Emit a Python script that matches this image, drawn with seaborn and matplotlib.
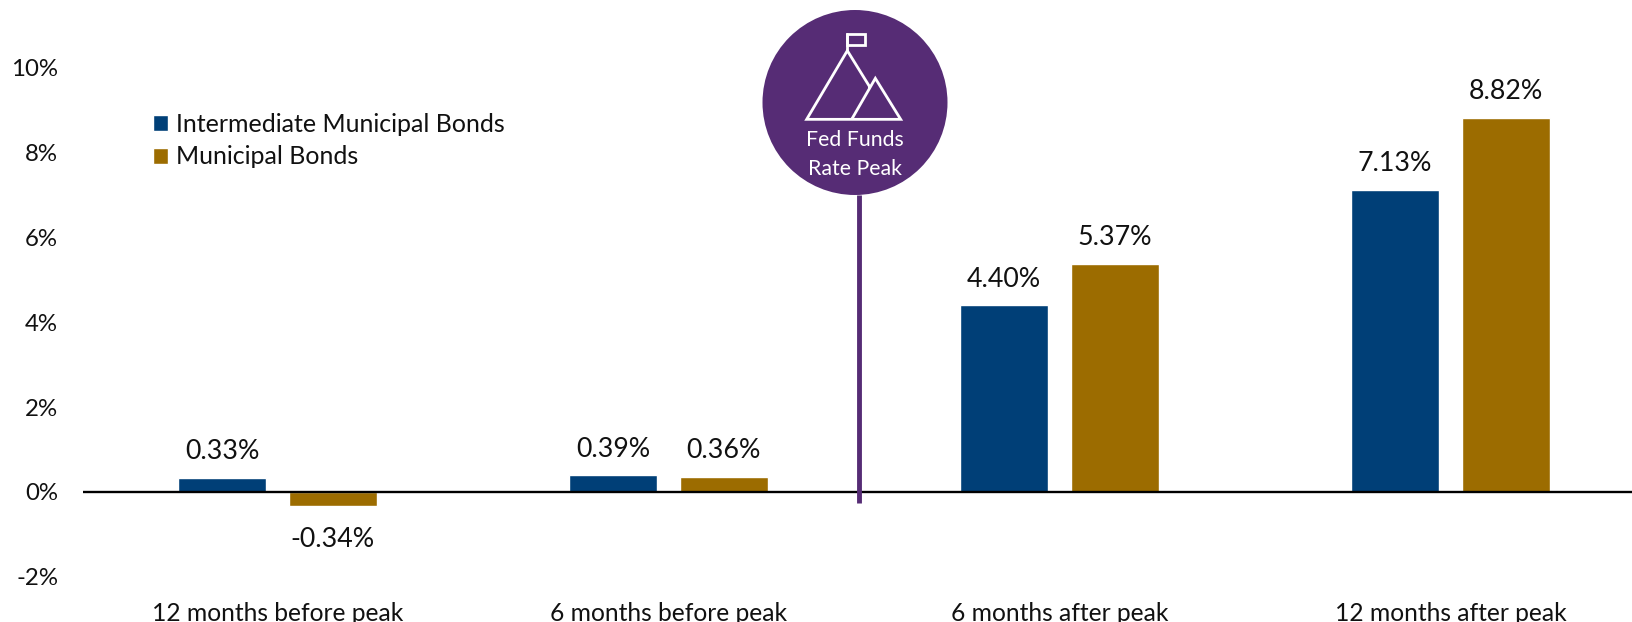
import matplotlib
matplotlib.use("Agg")
import matplotlib.pyplot as plt
from matplotlib.patches import Circle, Patch, Polygon, Rectangle
from matplotlib.lines import Line2D
import pandas as pd
import seaborn as sns

periods = ["12 months before peak", "6 months before peak", "6 months after peak", "12 months after peak"]
intermediate = [0.33, 0.39, 4.40, 7.13]
municipal = [-0.34, 0.36, 5.37, 8.82]
series_names = ["Intermediate Municipal Bonds", "Municipal Bonds"]
y_ticks = [-2, 0, 2, 4, 6, 8, 10]

NAVY, GOLD, PURPLE = "#003F77", "#9C6C00", "#562C75"
W, H = 1632, 622

sns.set_theme(style="white")
plt.rcParams["font.family"] = ["Lato", "DejaVu Sans"]
plt.rcParams["text.color"] = "#111111"

df = pd.DataFrame({
    "period": periods * 2,
    "value": intermediate + municipal,
    "series": [series_names[0]] * 4 + [series_names[1]] * 4,
})

fig = plt.figure(figsize=(W / 100, H / 100), dpi=100)
ax = fig.add_axes([83 / W, (H - 590) / H, (W - 83) / W, 590 / H])
sns.barplot(data=df, x="period", y="value", hue="series", order=periods,
            hue_order=series_names, palette=[NAVY, GOLD], width=0.566, gap=0.2,
            saturation=1, legend=False, ax=ax, zorder=2)

px_per_pct = 42.4
ax.set_ylim(-(590 - 492) / px_per_pct, 492 / px_per_pct)
ax.set_xlim(-(277.5 - 83) / 391, (W - 277.5) / 391)
ax.set_xlabel("")
ax.set_ylabel("")
sns.despine(ax=ax, left=True, bottom=True, top=True, right=True)
ax.set_yticks(y_ticks, [f"{v}%" for v in y_ticks])
ax.tick_params(axis="y", length=0, pad=18, labelsize=17.3, labelcolor="#111111")
ax.tick_params(axis="x", length=0, pad=8.5, labelsize=17.7, labelcolor="#111111")
ax.axhline(0, color="black", lw=1.7, zorder=3)

for c in ax.containers:
    vals = list(c.datavalues)
    ax.bar_label(c, labels=[f"{v:.2f}%" if v >= 0 else "" for v in vals],
                 padding=10, fontsize=19.3, color="#111111")
    ax.bar_label(c, labels=[f"{v:.2f}%" if v < 0 else "" for v in vals],
                 padding=14.5, fontsize=19.3, color="#111111")

# Stem of the "Fed Funds Rate Peak" marker
ax.plot([1.486, 1.486], [-0.25, 7], color=PURPLE, lw=3.5, zorder=4, solid_capstyle="butt")

# Overlay in pixel coordinates for the marker badge
ov = fig.add_axes([0, 0, 1, 1], facecolor="none")
ov.set_xlim(0, W)
ov.set_ylim(H, 0)
ov.axis("off")
ov.add_patch(Circle((855, 102.5), 92.5, fc=PURPLE, ec="none"))


def z(x, y):
    return (740 + x / 3, y / 3)


icon = dict(fill=False, ec="white", lw=2, joinstyle="miter")
ov.add_patch(Polygon([z(390, 262), z(322, 152), z(200, 358), z(482, 358), z(406, 235), z(335, 358)], closed=False, **icon))
ov.add_line(Line2D(*zip(z(322, 152), z(322, 103)), color="white", lw=2))
ov.add_patch(Rectangle(z(322, 103), 53 / 3, 32 / 3, **icon))
ov.text(855, 140, "Fed Funds", color="white", ha="center", va="center", fontsize=15.3)
ov.text(855, 169, "Rate Peak", color="white", ha="center", va="center", fontsize=15.3)

handles = [Patch(fc=NAVY, label=series_names[0]), Patch(fc=GOLD, label=series_names[1])]
leg = ov.legend(handles=handles, loc="upper left", bbox_to_anchor=(145 / W, 1 - 105 / H),
                bbox_transform=fig.transFigure, frameon=False, fontsize=18,
                handlelength=0.62, handleheight=0.62, handletextpad=0.3,
                labelspacing=0.4, borderpad=0.3, borderaxespad=0)

fig.savefig("out.png", dpi=100)
